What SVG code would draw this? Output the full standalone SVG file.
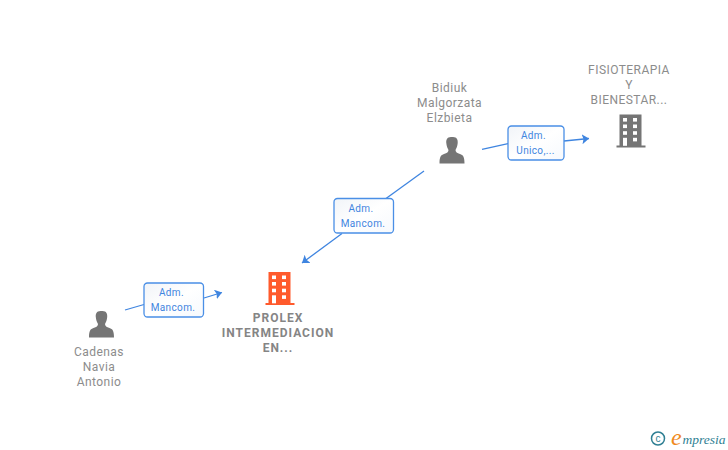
<svg xmlns="http://www.w3.org/2000/svg" width="728" height="450" viewBox="0 0 728 450">
<style>
.t{font-family:Roboto,"Liberation Sans",Arial,sans-serif;font-size:12px;fill:#8c8c8c;text-anchor:middle;letter-spacing:.45px}
.b{font-weight:bold;fill:#858585;letter-spacing:1px}
.l{font-family:Roboto,"Liberation Sans",Arial,sans-serif;font-size:10px;fill:#3f85e0;text-anchor:middle;letter-spacing:.35px}
.box{fill:url(#g);stroke:#4a8fe6;stroke-width:1.3}
.c{fill:none;stroke:#3f85e0;stroke-width:1.3;marker-end:url(#a)}
.n{fill:none;stroke:#3f85e0;stroke-width:1.3}
.w{fill:#fff}
</style>
<defs>
<linearGradient id="g" x1="0" y1="0" x2="1" y2="1"><stop offset="0" stop-color="#f1f4f8"/><stop offset=".5" stop-color="#fff"/><stop offset="1" stop-color="#f6f9fd"/></linearGradient>
<marker id="a" markerUnits="userSpaceOnUse" markerWidth="12" markerHeight="12" refX="7" refY="5" orient="auto"><path d="M0 0L7 5L0 10L1.500 5Z" fill="#3f85e0"/></marker>
<g id="bld"><path d="M3 0H25V31H29V33H0V31H3Z"/><g class="w"><rect x="6.500" y="3.500" width="4" height="3.600"/><rect x="16.500" y="3.500" width="4" height="3.600"/><rect x="6.500" y="10" width="4" height="3.600"/><rect x="16.500" y="10" width="4" height="3.600"/><rect x="6.500" y="16.700" width="4" height="3.600"/><rect x="16.500" y="16.700" width="4" height="3.600"/><rect x="6.500" y="23.300" width="4" height="8"/><rect x="16.500" y="23.300" width="4" height="3.600"/></g></g>
<path id="per" d="M-1 0C-5 0 -6 3 -5.700 6C-5.500 9 -4.500 11 -3.500 13C-3.500 15 -5 16 -8 17C-11 18 -12.500 19.500 -12.500 26.500H12.500C12.500 19.500 11 18 8 17C5 16 3.500 15 3.500 13C4.500 11 5.500 9 5.700 6C6 3 5 0 1 0Z" fill="#757575"/>
</defs>
<g id="connectors">
<path class="n" d="M125 310L144 304.500"/><path class="c" d="M204 298L222 292.500"/>
<path class="n" d="M424 171L386 198.500"/><path class="c" d="M342 233.500L302 263"/>
<path class="n" d="M482 149.300L508 143.700"/><path class="c" d="M564 141L589 138.500"/>
</g>
<g id="edge-label-1"><rect class="box" x="144" y="283" width="59.500" height="34" rx="3.500"/><text class="l" x="171.500" y="296">Adm.</text><text class="l" x="173" y="311">Mancom.</text></g>
<g id="edge-label-2"><rect class="box" x="334" y="198.500" width="59.500" height="34.500" rx="3.500"/><text class="l" x="361" y="212">Adm.</text><text class="l" x="363" y="227">Mancom.</text></g>
<g id="edge-label-3"><rect class="box" x="508" y="126" width="56" height="34" rx="3.500"/><text class="l" x="533.500" y="139">Adm.</text><text class="l" x="535.500" y="154">Unico,...</text></g>
<g id="node-bidiuk"><text class="t" x="449.500" y="92">Bidiuk</text><text class="t" x="449.500" y="107">Malgorzata</text><text class="t" x="449.500" y="122">Elzbieta</text><use href="#per" x="452" y="137"/></g>
<g id="node-fisioterapia"><text class="t" x="629" y="74">FISIOTERAPIA</text><text class="t" x="629" y="89">Y</text><text class="t" x="629" y="104">BIENESTAR...</text><use href="#bld" x="616.500" y="114.500" fill="#757575"/></g>
<g id="node-cadenas"><text class="t" x="99" y="356">Cadenas</text><text class="t" x="99" y="371">Navia</text><text class="t" x="99" y="386">Antonio</text><use href="#per" x="101.500" y="311"/></g>
<g id="node-prolex"><use href="#bld" x="265.500" y="272" fill="#ff5a2c"/><text class="t b" x="278" y="322">PROLEX</text><text class="t b" x="278" y="337">INTERMEDIACION</text><text class="t b" x="278" y="352">EN...</text></g>
<g id="logo"><circle cx="658" cy="438.500" r="6.500" fill="none" stroke="#2f7f93" stroke-width="1.500"/><text x="658" y="442" font-family="Liberation Sans,sans-serif" font-size="10" fill="#2f7f93" text-anchor="middle">c</text><text x="671" y="445" font-family="Liberation Serif,serif" font-style="italic" font-size="24" fill="#f08a1d">e</text><text x="682.500" y="443.500" font-family="Liberation Serif,serif" font-style="italic" font-size="13.500" fill="#2f7f93">mpresia</text></g>
</svg>
